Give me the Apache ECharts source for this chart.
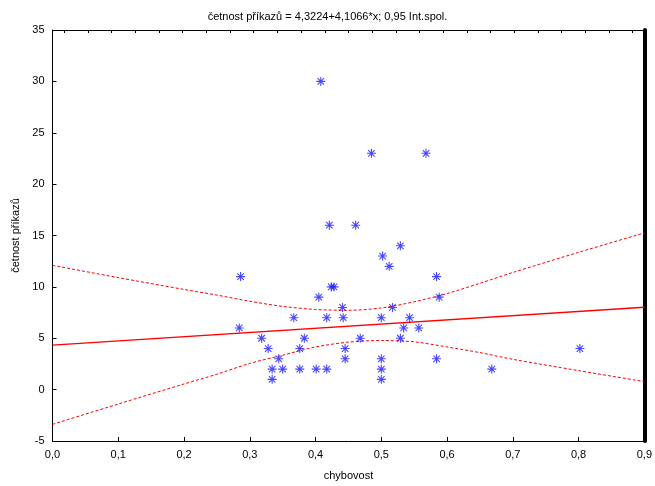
<!DOCTYPE html>
<html>
<head>
<meta charset="utf-8">
<script src="https://cdn.jsdelivr.net/npm/echarts@6/dist/echarts.min.js"></script>
<style>
html,body{margin:0;padding:0;background:#fff;}
#c{width:655px;height:486px;}
</style>
</head>
<body>
<div id="c"></div>
<script>
// ---- data ----
var chartTitle = 'četnost příkazů = 4,3224+4,1066*x; 0,95 Int.spol.';
var xName = 'chybovost';
var yName = 'četnost příkazů';

var pointsX = [0.286,0.284,0.318,0.328,0.334,0.334,0.344,0.350,0.367,0.376,0.376,0.383,0.401,0.405,0.408,
               0.417,0.417,0.421,0.424,0.428,0.441,0.442,0.445,0.445,0.461,0.468,0.485,0.500,0.502,0.500,
               0.500,0.500,0.512,0.517,0.529,0.529,0.534,0.543,0.557,0.568,0.584,0.588,0.584,0.668,0.802];
var pointsY = [11,6,5,4,2,1,3,2,7,4,2,5,2,9,30,
               7,2,16,10,10,8,7,4,3,16,5,23,7,13,3,
               2,1,12,8,14,5,6,7,6,23,11,9,3,2,4];

var fitX = [0, 0.9];
var fitY = [4.3224, 8.0183];

var bandX     = [0, 0.1, 0.2, 0.25, 0.3, 0.35, 0.4, 0.45, 0.5, 0.55, 0.6, 0.65, 0.7, 0.8, 0.9];
var bandUpper = [12.1, 10.9, 9.75, 9.2, 8.6, 8.1, 7.8, 7.72, 7.95, 8.55, 9.35, 10.35, 11.4, 13.36, 15.25];
var bandLower = [-3.38, -1.4, 0.55, 1.5, 2.55, 3.35, 4.15, 4.62, 4.78, 4.65, 4.15, 3.6, 2.95, 1.85, 0.78];

var topTickCount = 25;

// ---- build ----
function zip(a, b){ return a.map(function(v,i){ return [v, b[i]]; }); }
function comma(v){ return String(v).replace('.', ','); }

var star = 'path://M0,-5L0,5M-5,0L5,0M-3.6,-3.6L3.6,3.6M-3.6,3.6L3.6,-3.6';
var topCats = [];
for (var i = 0; i < topTickCount; i++) topCats.push('');

var chart = echarts.init(document.getElementById('c'));
chart.setOption({
  animation: false,
  backgroundColor: '#fff',
  textStyle: { fontFamily: 'Liberation Sans, Arial, sans-serif' },
  title: {
    text: chartTitle, left: 'center', top: 6,
    textStyle: { fontSize: 11, fontWeight: 'normal', color: '#000', fontFamily: 'Liberation Sans, Arial, sans-serif' }
  },
  grid: { left: 52.5, right: 6, top: 30, bottom: 41.5, containLabel: false },
  xAxis: [{
    type: 'value', min: 0, max: 0.9, interval: 0.1, position: 'bottom',
    name: xName, nameLocation: 'middle', nameGap: 29,
    nameTextStyle: { fontSize: 11, color: '#000' },
    axisLine: { show: true, onZero: false, lineStyle: { color: '#000', width: 1 } },
    axisTick: { show: true, inside: true, length: 4, lineStyle: { color: '#000' } },
    axisLabel: { fontSize: 11, color: '#000', margin: 8, formatter: function(v){ return v.toFixed(1).replace('.', ','); } },
    splitLine: { show: false }
  }, {
    type: 'category', data: topCats, position: 'top', boundaryGap: true,
    axisLine: { show: true, onZero: false, lineStyle: { color: '#000', width: 1 } },
    axisTick: { show: true, inside: true, length: 3, alignWithLabel: true, interval: 0, lineStyle: { color: '#000' } },
    axisLabel: { show: false },
    splitLine: { show: false }
  }],
  yAxis: [{
    type: 'value', min: -5, max: 35, interval: 5, position: 'left',
    name: yName, nameLocation: 'middle', nameGap: 30, nameRotate: 90,
    nameTextStyle: { fontSize: 11, color: '#000' },
    axisLine: { show: true, onZero: false, lineStyle: { color: '#000', width: 1 } },
    axisTick: { show: true, inside: true, length: 4, lineStyle: { color: '#000' } },
    axisLabel: { fontSize: 11, color: '#000', margin: 8, formatter: comma },
    splitLine: { show: false }
  }, {
    type: 'value', min: -5, max: 35, interval: 5, position: 'right',
    axisLine: { show: true, onZero: false, lineStyle: { color: '#000', width: 4 } },
    axisTick: { show: false }, axisLabel: { show: false }, splitLine: { show: false }
  }],
  series: [{
    type: 'line', xAxisIndex: 0, yAxisIndex: 0, data: zip(bandX, bandUpper), smooth: 0.3,
    showSymbol: false, lineStyle: { color: '#ff0000', width: 1, type: [3, 2] }, z: 2
  }, {
    type: 'line', xAxisIndex: 0, yAxisIndex: 0, data: zip(bandX, bandLower), smooth: 0.3,
    showSymbol: false, lineStyle: { color: '#ff0000', width: 1, type: [3, 2] }, z: 2
  }, {
    type: 'line', xAxisIndex: 0, yAxisIndex: 0, data: zip(fitX, fitY),
    showSymbol: false, lineStyle: { color: '#ff0000', width: 1.3 }, z: 2
  }, {
    type: 'scatter', xAxisIndex: 0, yAxisIndex: 0, data: zip(pointsX, pointsY),
    symbol: star, symbolSize: 9,
    itemStyle: { color: 'none', borderColor: '#1a1aff', borderWidth: 1.1 }, z: 3
  }]
});
</script>
</body>
</html>
